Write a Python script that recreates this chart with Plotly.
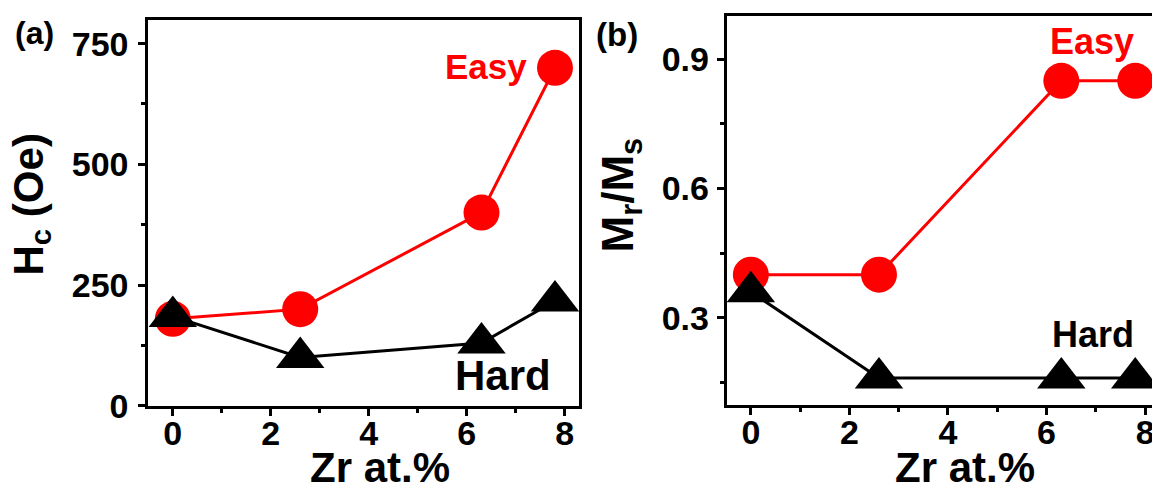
import plotly.graph_objects as go

# Zr content (at.%) of the films
zr = [0, 2.6, 6.3, 7.8]

# (a) coercivity H_c (Oe) along easy and hard axes
hc_easy = [180, 200, 400, 700]
hc_hard = [185, 100, 130, 217]

# (b) squareness M_r/M_s along easy and hard axes
mr_easy = [0.40, 0.40, 0.85, 0.85]
mr_hard = [0.36, 0.16, 0.16, 0.16]

W, H = 1152, 489
RED = "#ff0000"
BLACK = "#000000"
FONT = "Liberation Sans, Arial, sans-serif"


def fx(px):
    return px / W


def fy(py):
    return 1 - py / H


fig = go.Figure()

for xa, ya, easy, hard in [("x", "y", hc_easy, hc_hard), ("x2", "y2", mr_easy, mr_hard)]:
    fig.add_trace(go.Scatter(
        x=zr, y=easy, xaxis=xa, yaxis=ya, mode="lines+markers",
        line=dict(color=RED, width=3),
        marker=dict(symbol="circle", size=36, color=RED),
        cliponaxis=False, showlegend=False, name="Easy"))
    fig.add_trace(go.Scatter(
        x=zr, y=hard, xaxis=xa, yaxis=ya, mode="lines+markers",
        line=dict(color=BLACK, width=3),
        marker=dict(symbol="triangle-up", size=42, color=BLACK),
        cliponaxis=False, showlegend=False, name="Hard"))

tickfont = dict(family=FONT, size=34, color=BLACK, weight="bold")
common = dict(
    showline=True, linecolor=BLACK, linewidth=3,
    ticks="outside", ticklen=7, tickwidth=3, tickcolor=BLACK,
    showgrid=False, zeroline=False, tickfont=tickfont,
    automargin=False, fixedrange=True, ticklabeloverflow="allow",
)
minor = dict(ticks="outside", ticklen=4, tickwidth=3, tickcolor=BLACK, showgrid=False)

fig.update_layout(
    width=W, height=H,
    margin=dict(l=0, r=0, t=0, b=0),
    paper_bgcolor="white", plot_bgcolor="white",
    xaxis=dict(domain=[fx(148.3), fx(579)], range=[-0.5, 8.29],
               tick0=0, dtick=2, mirror=True, anchor="y", ticklabelstandoff=-12,
               minor=dict(minor, tick0=0, dtick=1), **common),
    yaxis=dict(domain=[fy(405.7), fy(19.5)], range=[0, 800],
               tick0=0, dtick=250, mirror=True, anchor="x", ticklabelstandoff=3,
               minor=dict(minor, tick0=0, dtick=125), **common),
    xaxis2=dict(domain=[fx(726.7), 1.0], range=[-0.49, 8.14],
                tick0=0, dtick=2, mirror=True, anchor="y2", ticklabelstandoff=-12,
                minor=dict(minor, tick0=0, dtick=1), **common),
    yaxis2=dict(domain=[fy(405), fy(16)], range=[0.0973, 1.0005],
                tick0=0, dtick=0.3, tickformat=".1f", mirror=False, anchor="x2",
                ticklabelstandoff=1,
                minor=dict(minor, tick0=0, dtick=0.15), **common),
)


def label(text, x, y, size, color=BLACK, angle=0):
    fig.add_annotation(
        text=text, x=fx(x), y=fy(y), xref="paper", yref="paper",
        xanchor="center", yanchor="middle", showarrow=False, textangle=angle,
        font=dict(family=FONT, size=size, color=color, weight="bold"))


# panel tags
label("(a)", 34, 33.5, 32)
label("(b)", 617, 34, 33)

# axis titles
label("Zr at.%", 380, 467, 42)
label("Zr at.%", 965, 467, 42)
label("H<sub>c</sub> (Oe)", 30.5, 205, 42, angle=-90)
label("M<sub>r</sub>/M<sub>s</sub>", 620, 195.5, 44, angle=-90)

# series labels
label("Easy", 486, 67, 35, RED)
label("Hard", 502.5, 375, 42)
label("Easy", 1092, 41.3, 36, RED)
label("Hard", 1092.5, 334, 36)

fig.write_html("out.html")
